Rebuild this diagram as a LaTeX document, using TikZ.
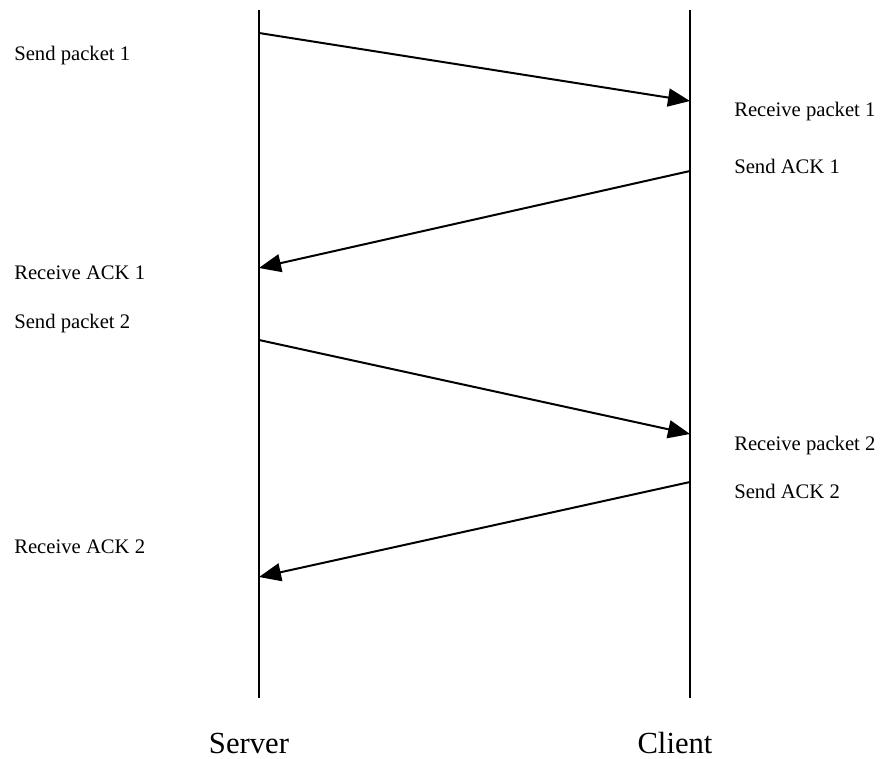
\documentclass[tikz,border=0pt]{standalone}
\usepackage{fontspec}
\setmainfont{Liberation Serif}
\usetikzlibrary{arrows.meta}
\begin{document}
\begin{tikzpicture}[x=0.75pt,y=-0.75pt,
  lifeline/.style={line width=1.5pt},
  msg/.style={line width=1.5pt,-{Triangle[length=16.5pt,width=13.5pt]}},
  event/.style={anchor=base west,inner sep=0pt,font=\fontsize{15.5pt}{18pt}\selectfont},
  party/.style={anchor=base,inner sep=0pt,font=\fontsize{23pt}{27pt}\selectfont}]
\useasboundingbox (0,0) rectangle (881,759);
% lifelines
\coordinate (sTop) at (259,10);
\coordinate (sBot) at (259,698);
\coordinate (cTop) at (690,10);
\coordinate (cBot) at (690,698);
\draw[lifeline] (sTop) -- (sBot);
\draw[lifeline] (cTop) -- (cBot);
% message end points
\coordinate (s1) at (259,33);
\coordinate (c1) at (690,101);
\coordinate (c2) at (690,171);
\coordinate (s2) at (259,268);
\coordinate (s3) at (259,340);
\coordinate (c3) at (690,434);
\coordinate (c4) at (690,482);
\coordinate (s4) at (259,577);
\draw[msg] (s1) -- (c1);
\draw[msg] (c2) -- (s2);
\draw[msg] (s3) -- (c3);
\draw[msg] (c4) -- (s4);
% event labels
\node[event] (e1) at (14,61) {Send packet 1};
\node[event] (e2) at (734,117) {Receive packet 1};
\node[event] (e3) at (734,174) {Send ACK 1};
\node[event] (e4) at (14,279) {Receive ACK 1};
\node[event] (e5) at (14,328) {Send packet 2};
\node[event] (e6) at (734,450) {Receive packet 2};
\node[event] (e7) at (734,498) {Send ACK 2};
\node[event] (e8) at (14,553) {Receive ACK 2};
% party names
\node[party] (server) at (249,753) {Server};
\node[party] (client) at (675,753) {Client};
\end{tikzpicture}
\end{document}
